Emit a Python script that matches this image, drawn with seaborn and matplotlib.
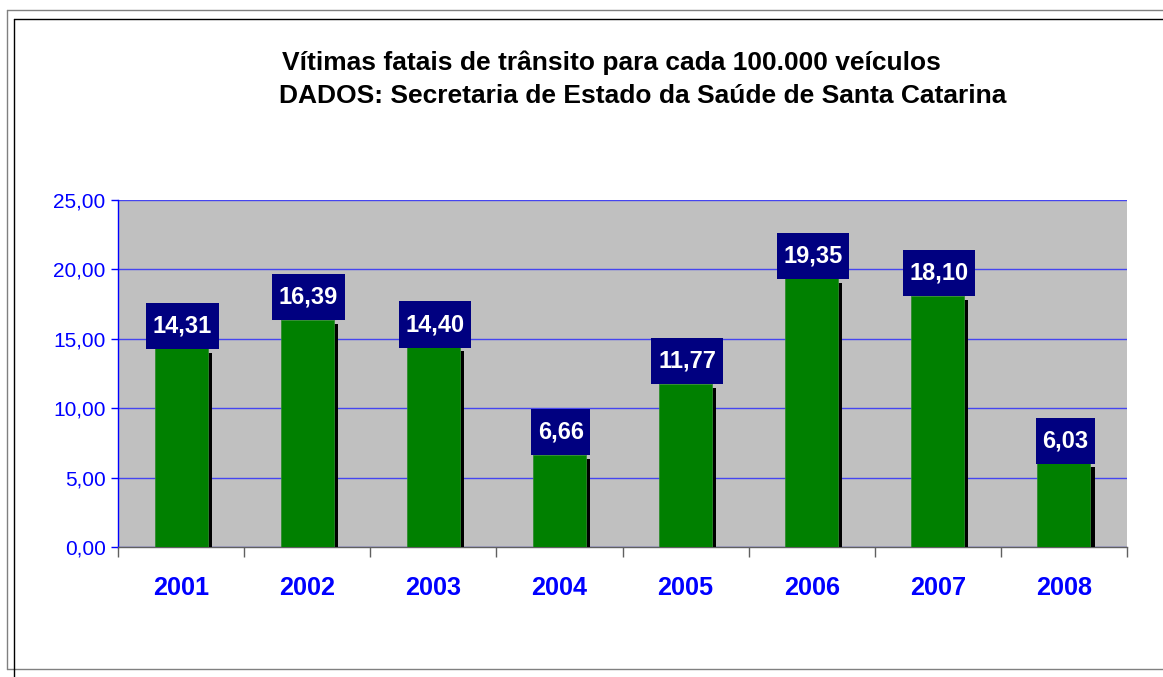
import numpy as np
import pandas as pd
import matplotlib
matplotlib.use("Agg")
import matplotlib.pyplot as plt
import matplotlib.patheffects as pe
from matplotlib.ticker import FixedLocator
import seaborn as sns

# data
anos = ["2001", "2002", "2003", "2004", "2005", "2006", "2007", "2008"]
vitimas = [14.31, 16.39, 14.40, 6.66, 11.77, 19.35, 18.10, 6.03]
y_ticks = [0, 5, 10, 15, 20, 25]

df = pd.DataFrame({"ano": anos, "vitimas": vitimas})

sns.set_style("white")
plt.rcParams["font.family"] = ["Liberation Sans", "DejaVu Sans"]
plt.rcParams["text.color"] = "black"

fig = plt.figure(figsize=(11.63, 6.77), dpi=100)
ax = fig.add_axes([118 / 1163, 1 - 547 / 677, (1127 - 118) / 1163, (547 - 200) / 677])
ax.set_facecolor("#c0c0c0")

sns.barplot(data=df, x="ano", y="vitimas", color="#008000", saturation=1,
            width=0.42, edgecolor="#2e8b2e", linewidth=0.6, ax=ax, zorder=3)

# drop shadow on the bars
for bar in ax.patches:
    bar.set_path_effects([pe.SimplePatchShadow(offset=(3.0, -3.0), shadow_rgbFace="black", alpha=1),
                          pe.Normal()])

# value labels in navy boxes
for bar, v in zip(ax.patches, vitimas):
    txt = f"{v:.2f}".replace(".", ",")
    ax.annotate(txt, (bar.get_x() + bar.get_width() / 2, v), xytext=(1, 8.0),
                textcoords="offset points", ha="center", va="bottom",
                color="white", fontsize=17, fontweight="bold", zorder=5,
                bbox=dict(boxstyle="square,pad=0.28", fc="#000080", ec="none",
                          mutation_aspect=1.75))

ax.set_ylim(0, 25)
ax.set_xlim(-0.5, len(anos) - 0.5)
ax.set_yticks(y_ticks)
ax.set_yticklabels([f"{t:.2f}".replace(".", ",") for t in y_ticks])
ax.yaxis.grid(True, color="#4545f0", linewidth=1, zorder=1)
ax.set_axisbelow(True)
ax.tick_params(axis="y", colors="#0000ff", labelsize=15, length=5, width=1, left=True, pad=4)
ax.tick_params(axis="x", which="major", length=0, pad=21, labelsize=18.2,
               labelcolor="#0000ff")
for lbl in ax.get_xticklabels():
    lbl.set_fontweight("bold")
ax.xaxis.set_minor_locator(FixedLocator(np.arange(-0.5, len(anos), 1)))
ax.tick_params(axis="x", which="minor", length=7, width=1, color="#606060", bottom=True)
ax.set_xlabel("")
ax.set_ylabel("")

for s in ["top", "right"]:
    ax.spines[s].set_visible(False)
ax.spines["left"].set_color("#0000ff")
ax.spines["bottom"].set_color("#606060")
ax.spines["left"].set_linewidth(1)
ax.spines["bottom"].set_linewidth(1)

fig.text(611 / 1163, 1 - 63 / 677, "Vítimas fatais de trânsito para cada 100.000 veículos",
         ha="center", va="center", fontsize=19, fontweight="bold", color="black")
fig.text(643 / 1163, 1 - 96 / 677, "DADOS: Secretaria de Estado da Saúde de Santa Catarina",
         ha="center", va="center", fontsize=19, fontweight="bold", color="black")

# chart frame
W, H = 1163, 677
fig.add_artist(plt.Line2D([7 / W, 1.01], [1 - 10 / H, 1 - 10 / H], color="#808080", lw=1))
fig.add_artist(plt.Line2D([7 / W, 7 / W], [1 - 10 / H, 1 - 669 / H], color="#808080", lw=1))
fig.add_artist(plt.Line2D([7 / W, 1.01], [1 - 669 / H, 1 - 669 / H], color="#808080", lw=1))
fig.add_artist(plt.Line2D([14 / W, 1.01], [1 - 19 / H, 1 - 19 / H], color="black", lw=1))
fig.add_artist(plt.Line2D([14 / W, 14 / W], [1 - 19 / H, 0], color="black", lw=1))

fig.savefig("out.png", dpi=100)
